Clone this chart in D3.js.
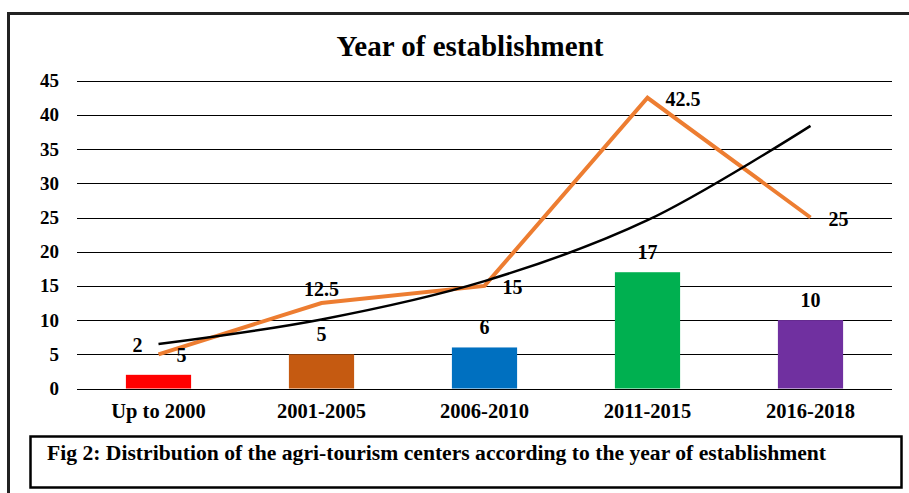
<!DOCTYPE html>
<html lang="en">
<head>
<meta charset="UTF-8">
<title>Year of establishment</title>
<script src="https://d3js.org/d3.v7.min.js"></script>
<style>
  body { margin: 0; background: #fff; }
  svg text { font-family: "Liberation Serif", "Times New Roman", serif; font-weight: bold; fill: #000; }
  .grid line { stroke: #000; stroke-width: 1; }
</style>
</head>
<body>
<svg width="909" height="493"></svg>
<script>
const categories = ["Up to 2000", "2001-2005", "2006-2010", "2011-2015", "2016-2018"];
const barValues = [2, 5, 6, 17, 10];
const lineValues = [5, 12.5, 15, 42.5, 25];
// exponential trendline at each category
const trendValues = [6.5, 10.1, 15.7, 24.6, 38.4];
const barColors = ["#ff0000", "#c55a11", "#0070c0", "#00b050", "#7030a0"];
const yTicks = [0, 5, 10, 15, 20, 25, 30, 35, 40, 45];

const svg = d3.select("svg");

// outer frame (only top and left edges visible)
svg.append("rect")
    .attr("x", 8.5).attr("y", 13.5)
    .attr("width", 1000).attr("height", 600)
    .attr("fill", "none").attr("stroke", "#222").attr("stroke-width", 3);

const x = d3.scaleBand().domain(categories).range([77, 892]).padding(0);
const y = d3.scaleLinear().domain([0, 45]).range([388.5, 80.7]);
const cx = d => x(d) + x.bandwidth() / 2;

svg.append("text")
    .attr("x", 470).attr("y", 56)
    .attr("text-anchor", "middle")
    .style("font-size", "29px")
    .text("Year of establishment");

// gridlines
svg.append("g").attr("class", "grid")
    .selectAll("line").data(yTicks).join("line")
    .attr("x1", 77).attr("x2", 892)
    .attr("y1", d => Math.round(y(d)) + 0.5).attr("y2", d => Math.round(y(d)) + 0.5);

// y axis labels
svg.append("g").selectAll("text").data(yTicks).join("text")
    .attr("x", 59).attr("y", d => y(d))
    .attr("text-anchor", "end")
    .attr("dominant-baseline", "central")
    .style("font-size", "19px")
    .text(d => d);

// x axis labels
svg.append("g").selectAll("text").data(categories).join("text")
    .attr("x", d => cx(d)).attr("y", 418)
    .attr("text-anchor", "middle")
    .style("font-size", "20.5px")
    .text(d => d);

// bars
const barW = x.bandwidth() * 0.4;
svg.append("g").selectAll("rect").data(barValues).join("rect")
    .attr("x", (d, i) => cx(categories[i]) - barW / 2)
    .attr("y", d => y(d))
    .attr("width", barW)
    .attr("height", d => y(0) - y(d))
    .attr("fill", (d, i) => barColors[i]);

svg.append("g").selectAll("text").data(barValues).join("text")
    .attr("x", (d, i) => cx(categories[i]) + (i === 0 ? -21 : 0))
    .attr("y", (d, i) => y(d) - (i === 0 ? 30 : 20))
    .attr("text-anchor", "middle")
    .attr("dominant-baseline", "central")
    .style("font-size", "20px")
    .text(d => d);

// orange line
const line = d3.line()
    .x((d, i) => cx(categories[i]))
    .y(d => y(d));
svg.append("path")
    .datum(lineValues)
    .attr("d", line)
    .attr("fill", "none")
    .attr("stroke", "#ed7d31")
    .attr("stroke-width", 4)
    .attr("stroke-linejoin", "miter");

// trendline
svg.append("path")
    .datum(trendValues)
    .attr("d", line.curve(d3.curveCatmullRom))
    .attr("fill", "none")
    .attr("stroke", "#000")
    .attr("stroke-width", 2.5);

svg.append("g").selectAll("text").data(lineValues).join("text")
    .attr("x", (d, i) => cx(categories[i]) + (i === 1 ? 0 : 18))
    .attr("y", (d, i) => y(d) + (i === 1 ? -14 : 1))
    .attr("text-anchor", (d, i) => i === 1 ? "middle" : "start")
    .attr("dominant-baseline", "central")
    .style("font-size", "20px")
    .text(d => d);

// caption box
svg.append("rect")
    .attr("x", 30.5).attr("y", 436.5)
    .attr("width", 871).attr("height", 51)
    .attr("fill", "none").attr("stroke", "#000").attr("stroke-width", 2.5);
svg.append("text")
    .attr("x", 47).attr("y", 460)
    .attr("textLength", 779)
    .attr("lengthAdjust", "spacingAndGlyphs")
    .style("font-size", "20px")
    .text("Fig 2: Distribution of the agri-tourism centers according to the year of establishment");
</script>
</body>
</html>
